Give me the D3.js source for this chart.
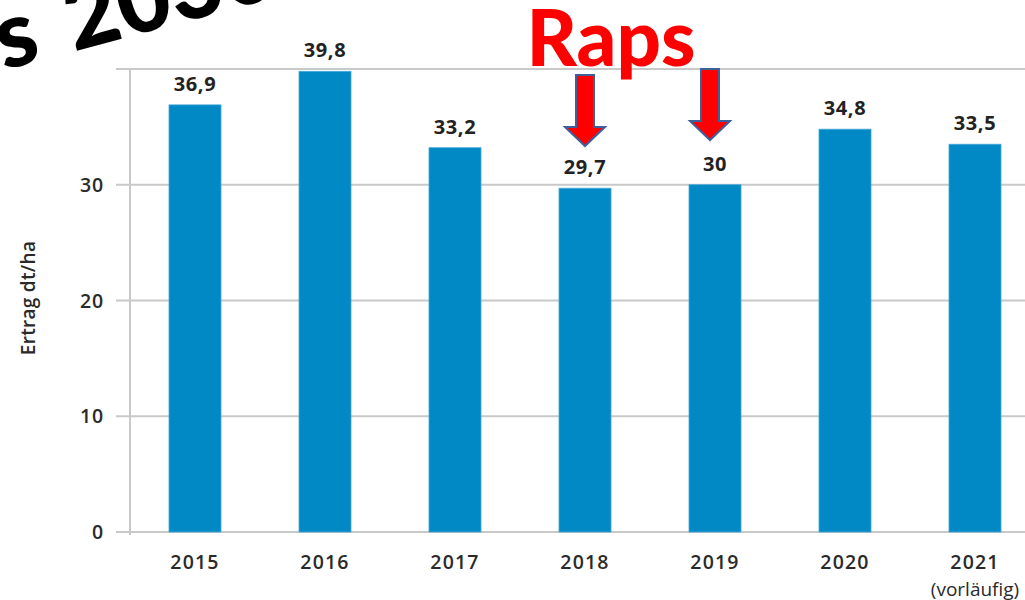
<!DOCTYPE html>
<html>
<head>
<meta charset="utf-8">
<script src="https://cdn.jsdelivr.net/npm/d3@7"></script>
<style>
  body { margin: 0; background: #fff; }
  svg { display: block; }
</style>
</head>
<body>
<script>
// chart data
const years = ["2015", "2016", "2017", "2018", "2019", "2020", "2021"];
const yields = [36.9, 39.8, 33.2, 29.7, 30, 34.8, 33.5];
const subLabels = ["", "", "", "", "", "", "(vorläufig)"];
const yTicks = [0, 10, 20, 30, 40];
const arrowYears = ["2018", "2019"];

const width = 1025, height = 600;
const svg = d3.select("body").append("svg")
  .attr("width", width)
  .attr("height", height);

// scales
const x = d3.scaleBand().domain(years).range([130, 1040]).paddingInner(0.6).paddingOuter(0.3);
const y = d3.scaleLinear().domain([0, 40]).range([532, 69]);

const grey = "#c9c9c9";
const font = "'Open Sans', sans-serif";

// gridlines
svg.append("g")
  .selectAll("line")
  .data(yTicks)
  .join("line")
  .attr("x1", 116)
  .attr("x2", width)
  .attr("y1", d => y(d))
  .attr("y2", d => y(d))
  .attr("stroke", grey)
  .attr("stroke-width", 2);

// y axis line
svg.append("line")
  .attr("x1", 130).attr("x2", 130)
  .attr("y1", y(40) - 1).attr("y2", y(0) + 3)
  .attr("stroke", grey)
  .attr("stroke-width", 2);

// y tick labels (40 is hidden by the top line)
svg.append("g")
  .selectAll("text")
  .data(yTicks.filter(d => d < 40))
  .join("text")
  .attr("x", 104)
  .attr("y", d => y(d) + 7)
  .attr("text-anchor", "end")
  .attr("font-family", font)
  .attr("font-weight", 600)
  .attr("font-size", 19.5)
  .attr("letter-spacing", 0.8)
  .attr("fill", "#2a2a2a")
  .text(d => d);

// y label
svg.append("text")
  .attr("transform", "translate(35,298) rotate(-90)")
  .attr("text-anchor", "middle")
  .attr("font-family", font)
  .attr("font-weight", 600)
  .attr("font-size", 19)
  .attr("letter-spacing", 0.3)
  .attr("fill", "#2a2a2a")
  .text("Ertrag dt/ha");

// bars
svg.append("g")
  .selectAll("rect")
  .data(yields)
  .join("rect")
  .attr("x", (d, i) => x(years[i]))
  .attr("y", d => y(d))
  .attr("width", x.bandwidth())
  .attr("height", d => y(0) - y(d))
  .attr("fill", "#0189c5")
  .attr("stroke", "#45a8d8")
  .attr("stroke-width", 0.8);

// value labels
const fmt = d => String(d).replace(".", ",");
svg.append("g")
  .selectAll("text")
  .data(yields)
  .join("text")
  .attr("x", (d, i) => x(years[i]) + x.bandwidth() / 2)
  .attr("y", d => y(d) - 14)
  .attr("text-anchor", "middle")
  .attr("font-family", font)
  .attr("font-weight", 700)
  .attr("font-size", 20)
  .attr("letter-spacing", 0.6)
  .attr("fill", "#222")
  .text(fmt);

// x labels
const xl = svg.append("g")
  .selectAll("g")
  .data(years)
  .join("g")
  .attr("transform", d => `translate(${x(d) + x.bandwidth() / 2},0)`);
xl.append("text")
  .attr("y", 569)
  .attr("text-anchor", "middle")
  .attr("font-family", font)
  .attr("font-weight", 600)
  .attr("font-size", 19.5)
  .attr("letter-spacing", 1.2)
  .attr("fill", "#2a2a2a")
  .text(d => d);
xl.append("text")
  .attr("y", 596)
  .attr("text-anchor", "middle")
  .attr("font-family", font)
  .attr("font-weight", 500)
  .attr("font-size", 19)
  .attr("fill", "#2a2a2a")
  .text((d, i) => subLabels[i]);

// annotations
svg.append("text")
  .attr("transform", "translate(-70,90) rotate(-15)")
  .attr("font-family", "Lato, sans-serif")
  .attr("font-weight", 900)
  .attr("font-size", 92)
  .attr("word-spacing", 10)
  .attr("fill", "#000")
  .text("bis 2030");

svg.append("text")
  .attr("x", 611)
  .attr("y", 66)
  .attr("text-anchor", "middle")
  .attr("font-family", "Lato, sans-serif")
  .attr("font-weight", 900)
  .attr("font-size", 78)
  .attr("fill", "#ff0000")
  .text("Raps");

// red down arrows
const arrowTop = { "2018": 75, "2019": 69 };
const arrowShift = { "2018": 0, "2019": -5 };
svg.append("g")
  .selectAll("path")
  .data(arrowYears)
  .join("path")
  .attr("d", d => {
    const cx = x(d) + x.bandwidth() / 2 + arrowShift[d];
    const t = arrowTop[d];
    const hs = t + 52, tip = t + 71;
    return `M${cx - 9},${t} L${cx + 9},${t} L${cx + 9},${hs} L${cx + 20},${hs} L${cx},${tip} L${cx - 20},${hs} L${cx - 9},${hs} Z`;
  })
  .attr("fill", "#ff0000")
  .attr("stroke", "#3f5f9a")
  .attr("stroke-width", 2);
</script>
</body>
</html>
